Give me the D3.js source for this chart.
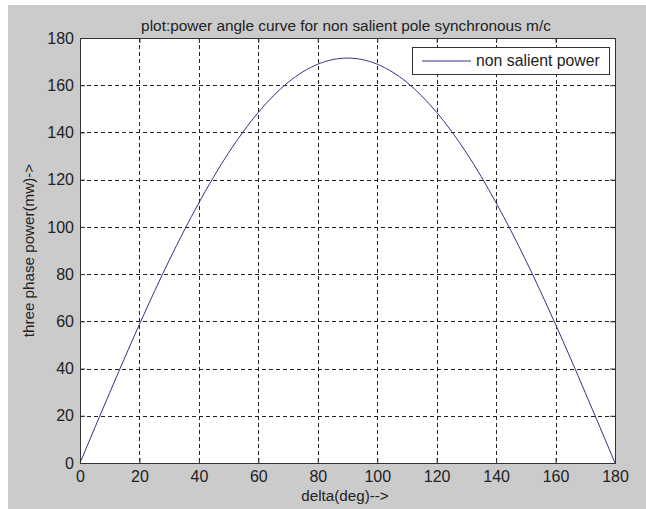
<!DOCTYPE html>
<html>
<head>
<meta charset="utf-8">
<script src="https://cdn.jsdelivr.net/npm/d3@7"></script>
<style>
  body { margin: 0; background: #fff; }
  text { font-family: "Liberation Sans", Arial, sans-serif; }
</style>
</head>
<body>
<script>
// power angle values
const delta = [0, 10, 20, 30, 40, 50, 60, 70, 80, 90, 100, 110, 120, 130, 140, 150, 160, 170, 180];
const power = [0, 29.8, 58.7, 85.8, 110.2, 131.4, 148.5, 161.2, 168.9, 171.5, 168.9, 161.2, 148.5, 131.4, 110.2, 85.8, 58.7, 29.8, 0];
const xTicks = [0, 20, 40, 60, 80, 100, 120, 140, 160, 180];
const yTicks = [0, 20, 40, 60, 80, 100, 120, 140, 160, 180];
const seriesName = "non salient power";

const width = 646, height = 509;
const svg = d3.select("body").append("svg").attr("width", width).attr("height", height);

// grey figure area
svg.append("rect").attr("x", 8).attr("y", 5).attr("width", width - 8).attr("height", height - 5)
  .attr("fill", "#cbcbcb");

const pLeft = 80, pRight = 615, pTop = 38, pBottom = 463;
const x = d3.scaleLinear().domain([0, 180]).range([pLeft, pRight]);
const y = d3.scaleLinear().domain([0, 180]).range([pBottom, pTop]);

svg.append("rect").attr("x", pLeft).attr("y", pTop).attr("width", pRight - pLeft).attr("height", pBottom - pTop)
  .attr("fill", "#fff");

// grid
const grid = svg.append("g").attr("stroke", "#222").attr("stroke-width", 1).attr("stroke-dasharray", "4,3");
grid.selectAll("line.gx").data(xTicks.slice(1, -1)).enter().append("line")
  .attr("x1", d => Math.round(x(d)) + 0.5).attr("x2", d => Math.round(x(d)) + 0.5)
  .attr("y1", pTop).attr("y2", pBottom);
grid.selectAll("line.gy").data(yTicks.slice(1, -1)).enter().append("line")
  .attr("y1", d => Math.round(y(d)) + 0.5).attr("y2", d => Math.round(y(d)) + 0.5)
  .attr("x1", pLeft).attr("x2", pRight);

// curve
const line = d3.line().x((d, i) => x(delta[i])).y(d => y(d)).curve(d3.curveMonotoneX);
svg.append("path").datum(power).attr("d", line)
  .attr("fill", "none").attr("stroke", "#33338c").attr("stroke-width", 1);

// axes
const xAxis = svg.append("g").attr("transform", `translate(0,${pBottom})`)
  .call(d3.axisBottom(x).tickValues(xTicks).tickSize(-5).tickPadding(8));
const xTop = svg.append("g").attr("transform", `translate(0,${pTop})`)
  .call(d3.axisTop(x).tickValues(xTicks).tickSize(-5).tickFormat(""));
const yAxis = svg.append("g").attr("transform", `translate(${pLeft},0)`)
  .call(d3.axisLeft(y).tickValues(yTicks).tickSize(-5).tickPadding(6));
const yRight = svg.append("g").attr("transform", `translate(${pRight},0)`)
  .call(d3.axisRight(y).tickValues(yTicks).tickSize(-5).tickFormat(""));
[xAxis, xTop, yAxis, yRight].forEach(g => {
  g.select(".domain").attr("stroke", "#333");
  g.selectAll(".tick line").attr("stroke", "#333");
  g.selectAll("text").attr("fill", "#222").style("font-size", "16px")
    .style("font-family", "'Liberation Sans', Arial, sans-serif");
});

// legend
const lg = svg.append("g");
lg.append("rect").attr("x", 412.5).attr("y", 47.5).attr("width", 197).attr("height", 27)
  .attr("fill", "#fff").attr("stroke", "#333");
lg.append("line").attr("x1", 422).attr("x2", 471).attr("y1", 61).attr("y2", 61)
  .attr("stroke", "#33338c");
lg.append("text").attr("x", 476).attr("y", 66).attr("font-size", 15.8).attr("fill", "#222").text(seriesName);

// labels
svg.append("text").attr("x", 346).attr("y", 31).attr("text-anchor", "middle")
  .attr("font-size", 15.4).attr("fill", "#222")
  .text("plot:power angle curve for non salient pole synchronous m/c");
svg.append("text").attr("x", 345).attr("y", 501).attr("text-anchor", "middle")
  .attr("font-size", 15.2).attr("fill", "#222").text("delta(deg)-->");
svg.append("text").attr("transform", `translate(34,${(pTop + pBottom) / 2}) rotate(-90)`)
  .attr("text-anchor", "middle").attr("font-size", 15.2).attr("fill", "#222")
  .text("three phase power(mw)->");
</script>
</body>
</html>
